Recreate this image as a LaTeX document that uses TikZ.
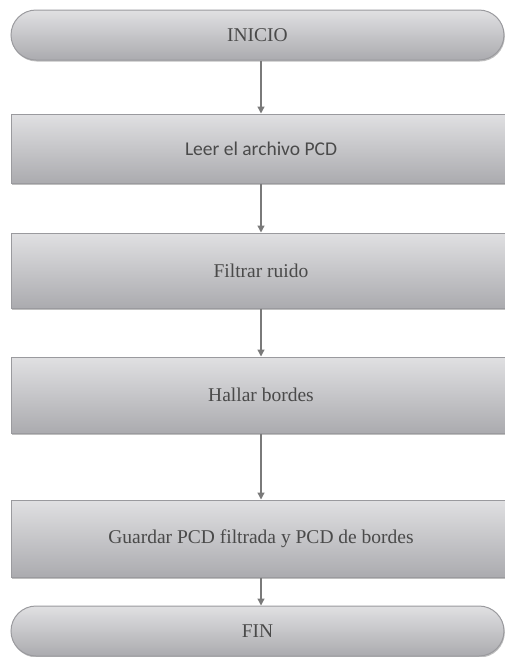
\documentclass[tikz,border=0pt]{standalone}
\usepackage{fontspec}
\setmainfont{Liberation Serif}
\newfontfamily\calib{Carlito}
\usetikzlibrary{arrows.meta,shadows}
\definecolor{topg}{HTML}{E0E0E2}
\definecolor{botg}{HTML}{ABABAF}
\definecolor{edgeg}{HTML}{9A9A9E}
\definecolor{txtg}{HTML}{4A4A4A}
\definecolor{arrg}{HTML}{7A7A7A}
\begin{document}
\begin{tikzpicture}[x=1pt,y=-1pt,
  box/.style={rectangle, draw=edgeg, line width=1pt, top color=topg, bottom color=botg,
    minimum width=500pt, inner sep=0pt, text=txtg, font=\fontsize{19.5}{22}\selectfont,
    drop shadow={shadow xshift=0.8pt, shadow yshift=-1.5pt, fill=black, opacity=0.25}},
  term/.style={box, rounded corners=25pt, minimum width=493pt},
  arr/.style={-{Triangle[length=7pt,width=7pt]}, draw=arrg, line width=1.3pt}]
\useasboundingbox (0,0) rectangle (505,657);
\node[term, minimum height=50pt] (inicio) at (257.5,35) {INICIO};
\node[box, minimum height=69pt] (leer) at (261,148.5) {\calib Leer el archivo PCD};
\node[box, minimum height=75pt] (filtrar) at (261,270.5) {Filtrar ruido};
\node[box, minimum height=76pt] (hallar) at (261,395) {Hallar bordes};
\node[box, minimum height=77pt] (guardar) at (261,538.5) {Guardar PCD filtrada y PCD de bordes};
\node[term, minimum height=50pt] (fin) at (257.5,631) {FIN};
\draw[arr] (inicio.south -| leer.north) -- (leer.north);
\draw[arr] (leer) -- (filtrar);
\draw[arr] (filtrar) -- (hallar);
\draw[arr] (hallar) -- (guardar);
\draw[arr] (guardar.south) -- (guardar.south |- fin.north);
\end{tikzpicture}
\end{document}
